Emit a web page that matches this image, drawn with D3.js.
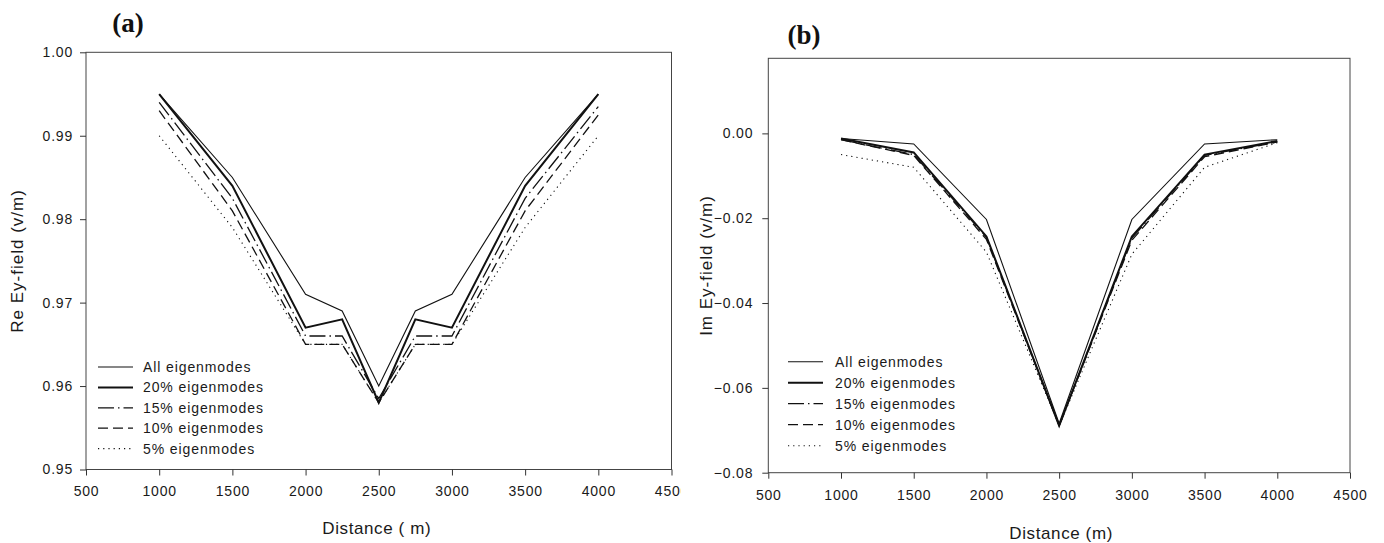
<!DOCTYPE html>
<html>
<head>
<meta charset="utf-8">
<script src="https://cdn.jsdelivr.net/npm/d3@7/dist/d3.min.js"></script>
<style>
  html, body { margin: 0; padding: 0; background: #fff; }
  svg { display: block; font-family: "Liberation Sans", Arial, sans-serif; }
  .tick text { font-size: 14px; letter-spacing: 0.8px; fill: #1a1a1a; }
  .tick line, .domain { stroke: #333; }
  .lgd text { font-size: 14px; letter-spacing: 0.9px; fill: #1a1a1a; }
</style>
</head>
<body>
<svg id="chart" width="1384" height="543"></svg>
<script>
// ---- panel (a): real part ----
const DIST_A = [1000, 1500, 2000, 2250, 2500, 2750, 3000, 3500, 4000];
const RE_ALL = [0.995, 0.985, 0.971, 0.969, 0.960, 0.969, 0.971, 0.985, 0.995];
const RE_20  = [0.995, 0.984, 0.967, 0.968, 0.958, 0.968, 0.967, 0.984, 0.995];
const RE_15  = [0.994, 0.9825, 0.966, 0.966, 0.9585, 0.966, 0.966, 0.9825, 0.9935];
const RE_10  = [0.993, 0.981, 0.965, 0.965, 0.958, 0.965, 0.965, 0.981, 0.9925];
const RE_5   = [0.990, 0.979, 0.965, 0.965, 0.958, 0.965, 0.965, 0.979, 0.990];

// ---- panel (b): imaginary part ----
const DIST_B = [1000, 1500, 2000, 2500, 3000, 3500, 4000];
const IM_ALL = [-0.0012, -0.0025, -0.0203, -0.0684, -0.0203, -0.0025, -0.0015];
const IM_20  = [-0.0012, -0.0045, -0.0243, -0.0689, -0.0243, -0.0050, -0.0018];
const IM_15  = [-0.0015, -0.0050, -0.0245, -0.0689, -0.0247, -0.0052, -0.0020];
const IM_10  = [-0.0015, -0.0052, -0.0250, -0.0689, -0.0252, -0.0055, -0.0020];
const IM_5   = [-0.0050, -0.0080, -0.0280, -0.0689, -0.0285, -0.0080, -0.0022];

const LABELS = ['All eigenmodes', '20% eigenmodes', '15% eigenmodes', '10% eigenmodes', '5% eigenmodes'];
const X_TICKS = [500, 1000, 1500, 2000, 2500, 3000, 3500, 4000, 4500];
const Y_TICKS_A = [0.95, 0.96, 0.97, 0.98, 0.99, 1.00];
const Y_TICKS_B = [-0.08, -0.06, -0.04, -0.02, 0.00];

// line styles, same order as LABELS
const STYLES = [
  { w: 1.1, dash: null },
  { w: 2.0, dash: null },
  { w: 1.3, dash: '16 4 1.5 4' },
  { w: 1.3, dash: '10 5' },
  { w: 1.1, dash: '1.2 4' },
];

const svg = d3.select('#chart');

function panel(cfg) {
  const g = svg.append('g');
  const x = d3.scaleLinear().domain([500, 4500]).range(cfg.xr);
  const y = d3.scaleLinear().domain(cfg.yd).range(cfg.yr);

  if (cfg.clip) {
    svg.append('clipPath').attr('id', cfg.clip)
      .append('rect').attr('x', 0).attr('y', 0).attr('width', cfg.clipW).attr('height', 543);
    g.attr('clip-path', `url(#${cfg.clip})`);
  }

  // frame
  g.append('rect')
    .attr('x', cfg.xr[0]).attr('y', cfg.yr[1])
    .attr('width', cfg.xr[1] - cfg.xr[0]).attr('height', cfg.yr[0] - cfg.yr[1])
    .attr('fill', 'none').attr('stroke', '#444').attr('stroke-width', 1);

  g.append('g').attr('transform', `translate(0,${cfg.yr[0]})`)
    .call(d3.axisBottom(x).tickValues(X_TICKS).tickFormat(d3.format('d'))
      .tickSizeOuter(0).tickSize(6).tickPadding(cfg.xPad));
  g.append('g').attr('transform', `translate(${cfg.xr[0]},0)`)
    .call(d3.axisLeft(y).tickValues(cfg.yTicks).tickFormat(d3.format('.2f'))
      .tickSizeOuter(0).tickSize(6).tickPadding(cfg.yPad));
  g.selectAll('.domain').remove();

  const line = d3.line().x((d, i) => x(cfg.dist[i])).y(d => y(d));
  cfg.series.forEach((s, i) => {
    g.append('path').datum(s)
      .attr('fill', 'none').attr('stroke', '#111')
      .attr('stroke-width', STYLES[i].w)
      .attr('stroke-dasharray', STYLES[i].dash)
      .attr('stroke-linejoin', 'miter')
      .attr('d', line);
  });

  // legend
  const lg = g.append('g').attr('class', 'lgd');
  LABELS.forEach((t, i) => {
    const yy = cfg.lgY + i * cfg.lgStep;
    lg.append('line')
      .attr('x1', cfg.lgX[0]).attr('x2', cfg.lgX[1]).attr('y1', yy).attr('y2', yy)
      .attr('stroke', '#111').attr('stroke-width', STYLES[i].w)
      .attr('stroke-dasharray', STYLES[i].dash);
    lg.append('text').attr('x', cfg.lgX[2]).attr('y', yy).attr('dy', '0.35em').text(t);
  });

  // titles
  g.append('text')
    .attr('x', cfg.tag[0]).attr('y', cfg.tag[1]).attr('text-anchor', 'middle')
    .attr('font-family', '"Liberation Serif", "Times New Roman", serif')
    .attr('font-weight', 'bold').attr('font-size', 27).attr('fill', '#111')
    .text(cfg.tagText);
  g.append('text')
    .attr('x', (cfg.xr[0] + cfg.xr[1]) / 2 + cfg.xtOff).attr('y', cfg.xtY).attr('text-anchor', 'middle')
    .attr('font-size', 17).attr('letter-spacing', 0.6).attr('fill', '#1a1a1a')
    .text(cfg.xTitle);
  g.append('text')
    .attr('transform', `translate(${cfg.ytX},${(cfg.yr[0] + cfg.yr[1]) / 2 + cfg.ytOff}) rotate(-90)`)
    .attr('text-anchor', 'middle')
    .attr('font-size', 17).attr('letter-spacing', 1).attr('fill', '#1a1a1a')
    .text(cfg.yTitle);
}

panel({
  xr: [86, 671.5], yr: [469.5, 52.3], yd: [0.95, 1.00], yTicks: Y_TICKS_A,
  dist: DIST_A, series: [RE_ALL, RE_20, RE_15, RE_10, RE_5],
  xPad: 11, yPad: 7,
  lgX: [98, 133, 143], lgY: 367, lgStep: 20.4,
  tag: [128, 32], tagText: '(a)',
  xTitle: 'Distance ( m)', xtOff: -2, xtY: 534,
  yTitle: 'Re Ey-field (v/m)', ytX: 23, ytOff: 0,
  clip: 'clipA', clipW: 681
});

panel({
  xr: [768.3, 1350], yr: [472.7, 58.3], yd: [-0.08, 0.0177], yTicks: Y_TICKS_B,
  dist: DIST_B, series: [IM_ALL, IM_20, IM_15, IM_10, IM_5],
  xPad: 11, yPad: 9,
  lgX: [788, 823, 835], lgY: 361.7, lgStep: 21,
  tag: [804, 44], tagText: '(b)',
  xTitle: 'Distance (m)', xtOff: 2, xtY: 539,
  yTitle: 'Im Ey-field (v/m)', ytX: 712, ytOff: 0
});
</script>
</body>
</html>
